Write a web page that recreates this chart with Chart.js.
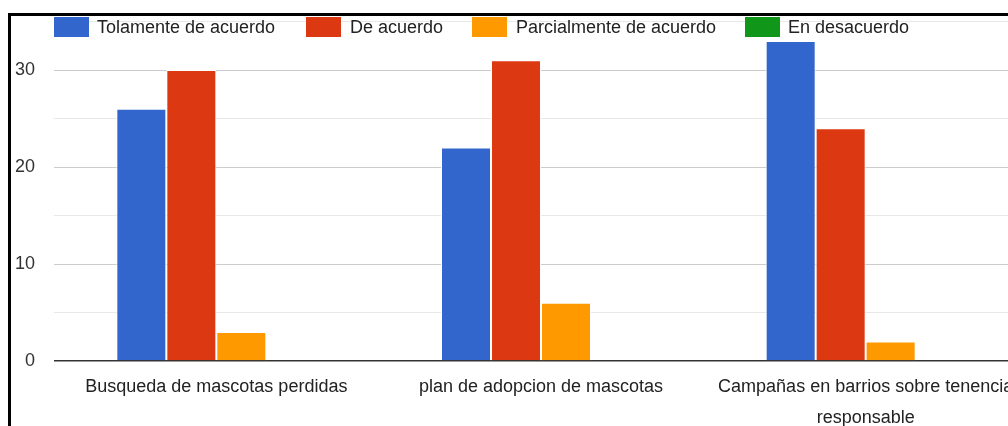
<!DOCTYPE html>
<html>
<head>
<meta charset="utf-8">
<script src="https://cdn.jsdelivr.net/npm/chart.js@4/dist/chart.umd.min.js"></script>
<style>
  html, body { margin: 0; padding: 0; background: #fff; overflow: hidden; }
  #wrap { position: absolute; left: 0; top: 0; width: 1028px; height: 426px; }
  #frame {
    position: absolute; left: 8px; top: 13px; width: 1100px; height: 500px;
    border-left: 3px solid #000; border-top: 3px solid #000; pointer-events: none;
  }
</style>
</head>
<body>
<div id="wrap"><canvas id="chart" width="1028" height="426"></canvas></div>
<div id="frame"></div>
<script>
const categories = [
  "Busqueda de mascotas perdidas",
  "plan de adopcion de mascotas",
  ["Campañas en barrios sobre tenencia", "responsable"],
];
const seriesNames = ["Tolamente de acuerdo", "De acuerdo", "Parcialmente de acuerdo", "En desacuerdo"];
const totalmente = [26, 22, 33];
const deAcuerdo = [30, 31, 24];
const parcialmente = [3, 6, 2];
const desacuerdo = [0, 0, 0];
const colors = ["#3366cc", "#dc3912", "#ff9900", "#109618"];

const font = { family: "Arial, 'Liberation Sans', sans-serif", size: 18 };

// legend drawn over the top of the plot, like the original
const legendItems = [
  { box: 54, text: 97 },
  { box: 306, text: 350 },
  { box: 472, text: 516 },
  { box: 745, text: 788 },
];
const topLegend = {
  id: "topLegend",
  afterDraw(chart) {
    const ctx = chart.ctx;
    ctx.save();
    ctx.font = font.size + "px " + font.family;
    ctx.textBaseline = "middle";
    chart.data.datasets.forEach((ds, i) => {
      const it = legendItems[i];
      ctx.fillStyle = ds.backgroundColor;
      ctx.fillRect(it.box, 17, 35, 20);
      ctx.fillStyle = "#222";
      ctx.fillText(ds.label, it.text, 28);
    });
    ctx.restore();
  },
};

new Chart(document.getElementById("chart"), {
  type: "bar",
  data: {
    labels: categories,
    datasets: [totalmente, deAcuerdo, parcialmente, desacuerdo].map((d, i) => ({
      label: seriesNames[i],
      data: d,
      backgroundColor: colors[i],
      borderColor: "#fff",
      borderWidth: i === 3 ? 0 : 1,
      borderSkipped: "start",
      barPercentage: 1,
      categoryPercentage: 0.616,
    })),
  },
  options: {
    responsive: false,
    animation: false,
    layout: { padding: { top: 21.5, left: 0, right: 0, bottom: 0 } },
    plugins: {
      legend: { display: false },
      tooltip: { enabled: false },
    },
    scales: {
      x: {
        grid: { display: false, drawTicks: false },
        border: { display: false },
        ticks: { font: { ...font, lineHeight: 1.75 }, color: "#222", padding: 10, maxRotation: 0, autoSkip: false },
        afterFit: (s) => { s.height = 65; },
      },
      y: {
        min: 0,
        max: 35,
        grid: {
          drawTicks: false,
          color: (c) => (c.tick.value === 0 ? "#333" : c.tick.value % 10 === 0 ? "#cccccc" : "#e8e8e8"),
          lineWidth: (c) => (c.tick.value === 0 ? 1.5 : 1),
        },
        border: { display: false },
        ticks: {
          stepSize: 5,
          padding: 19,
          font: font,
          color: "#333",
          callback: (v) => (v % 10 === 0 ? v : ""),
        },
        afterFit: (s) => {
          s.width = 54;
          s.paddingTop = 0;
          s.paddingBottom = 0;
        },
      },
    },
  },
  plugins: [topLegend],
});
</script>
</body>
</html>
